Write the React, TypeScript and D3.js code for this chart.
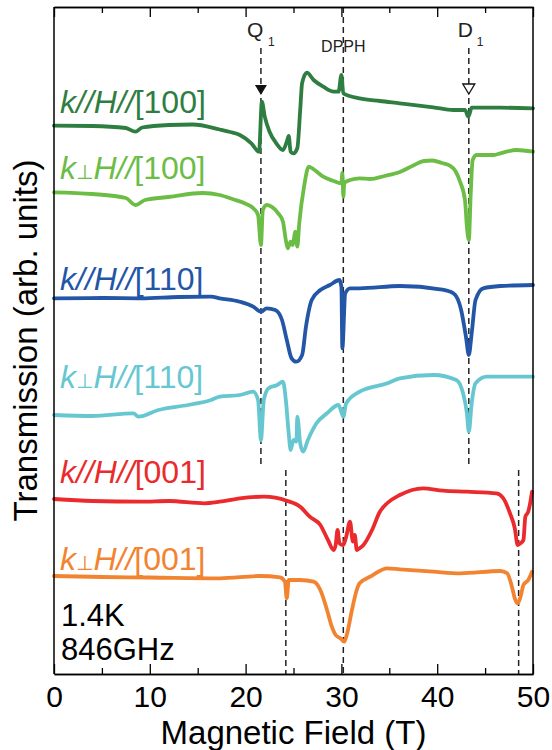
import React, { useEffect, useRef } from "react";
import * as d3 from "d3";

const width = 552;
const height = 750;
const margin = { top: 7, right: 19, bottom: 76, left: 54 };

const FONT = "'Liberation Sans', Arial, sans-serif";

// x axis
const xTicks = [0, 10, 20, 30, 40, 50];
const xMinorTicks = [5, 15, 25, 35, 45];

// traces: [field (T), transmission (arb. units, offset included)]
const kParH100: [number, number][] = [
  [0, 54.83], [4, 54.8], [7.5, 54.6], [8.5, 54.23], [9.2, 54.65], [12, 54.9],
  [14.5, 54.95], [17.3, 54.45], [18.4, 54.2], [19.4, 53.9], [20.6, 53.07],
  [21.4, 52.23], [21.7, 57.23], [22.0, 55.73], [22.5, 54.23], [23.2, 53.07],
  [23.9, 52.4], [24.3, 53.23], [24.5, 53.8], [24.7, 52.23], [25.0, 52.07],
  [25.4, 52.6], [25.7, 56.4], [25.9, 59.1], [26.4, 60.13], [27.1, 59.4],
  [28.1, 58.73], [29.2, 58.23], [29.7, 58.23], [30.0, 59.9], [30.2, 58.07],
  [31.9, 57.57], [34, 57.3], [36.1, 57.07], [39.6, 56.67], [41.7, 56.4],
  [42.9, 56.4], [43.25, 55.73], [43.6, 56.63], [46.6, 56.63], [50, 56.57],
];

const kPerpH100: [number, number][] = [
  [0, 48.17], [4, 48.0], [7.5, 47.6], [8.5, 46.9], [9.5, 47.4], [12, 47.7],
  [15.5, 48.1], [17.3, 47.9], [18.7, 47.47], [19.9, 47.07], [20.8, 46.57],
  [21.3, 45.9], [21.6, 42.9], [21.8, 46.4], [22.2, 46.9], [22.7, 46.73],
  [23.4, 46.07], [23.9, 45.23], [24.2, 43.4], [24.4, 42.57], [24.7, 43.23],
  [24.9, 42.9], [25.2, 44.23], [25.4, 42.73], [25.6, 45.07], [26.1, 48.73],
  [26.6, 50.73], [27.2, 50.4], [28.1, 49.73], [29.1, 49.33], [30.0, 49.07],
  [30.1, 50.1], [30.2, 47.73], [30.3, 49.1], [30.9, 49.4], [31.9, 49.57],
  [33, 49.5], [34.5, 49.8], [36.1, 50.2], [37.5, 50.85], [38.6, 51.3],
  [39.5, 51.35], [40.5, 51.1], [41.3, 50.85], [41.9, 50.3], [42.4, 49.2],
  [42.9, 47.4], [43.1, 44.73], [43.3, 43.4], [43.5, 48.07], [43.7, 51.4],
  [44.1, 51.9], [45.9, 51.9], [46.6, 52.07], [48.3, 52.4], [50, 52.23],
];

const kParH110: [number, number][] = [
  [0, 37.57], [5, 37.6], [9.1, 37.57], [13, 37.7], [16.4, 37.73], [17.3, 37.57],
  [19.4, 37.23], [20.8, 36.73], [21.6, 36.23], [22.2, 36.57], [23.1, 36.4],
  [23.8, 35.4], [24.3, 33.4], [24.8, 31.57], [25.3, 31.23], [25.9, 31.9],
  [26.3, 34.73], [26.9, 37.4], [27.8, 38.4], [28.8, 38.9], [29.8, 39.4],
  [30.0, 38.73], [30.1, 32.57], [30.4, 38.07], [30.9, 38.57], [31.9, 38.57],
  [36.1, 38.8], [40.3, 38.47], [41.7, 38.07], [42.5, 36.4], [43.0, 33.73],
  [43.3, 31.9], [43.6, 34.07], [44.0, 37.4], [44.8, 38.57], [46.6, 38.8],
  [50, 38.9],
];

const kPerpH110: [number, number][] = [
  [0, 25.9], [4, 25.8], [8.3, 26.07], [8.8, 25.73], [10.9, 26.4], [14, 26.9],
  [16.4, 27.4], [17.3, 27.73], [19.4, 27.9], [20.8, 28.23], [21.3, 27.4],
  [21.6, 23.4], [21.9, 27.4], [22.4, 28.57], [23.3, 28.9], [23.9, 29.23],
  [24.2, 27.4], [24.5, 24.07], [24.7, 22.4], [25.0, 23.4], [25.3, 23.23],
  [25.4, 25.73], [25.7, 23.07], [26.0, 22.23], [26.5, 23.4], [27.4, 25.07],
  [28.5, 26.07], [29.7, 26.9], [30.2, 25.73], [30.5, 27.07], [31.9, 28.23],
  [34.8, 29.07], [36.1, 29.57], [39.6, 29.9], [42.0, 29.4], [42.7, 28.07],
  [43.1, 26.07], [43.3, 24.23], [43.6, 27.07], [44.0, 29.07], [45.2, 29.73],
  [50, 29.73],
];

const kParH001: [number, number][] = [
  [0, 17.5], [4, 17.3], [9.1, 17.23], [12, 17.3], [15.7, 17.07], [17.3, 17.23],
  [19.4, 17.57], [21.9, 17.73], [24.3, 17.33], [25.7, 16.73], [26.7, 15.73],
  [27.8, 14.9], [28.6, 13.4], [29.2, 12.4], [29.4, 12.9], [29.6, 14.4],
  [29.8, 13.07], [30.2, 12.9], [30.5, 13.73], [30.9, 15.23], [31.2, 13.23],
  [31.4, 13.9], [31.6, 12.4], [31.9, 12.57], [32.3, 12.9], [33.2, 14.4],
  [34.0, 16.2], [34.8, 17.1], [36.1, 17.9], [38.5, 18.57], [40.6, 18.33],
  [43.1, 18.23], [46.2, 18.07], [46.9, 17.57], [47.6, 16.07], [48.1, 14.57],
  [48.4, 12.9], [48.7, 13.07], [49.0, 13.4], [49.2, 15.73], [49.5, 16.23],
  [49.7, 17.07], [49.9, 18.23],
];

const kPerpH001: [number, number][] = [
  [0, 9.8], [5, 9.7], [10, 9.65], [17.3, 9.57], [21.5, 9.8], [23.6, 9.67],
  [24.1, 9.23], [24.3, 7.57], [24.5, 9.4], [25.7, 9.4], [27.1, 9.23],
  [27.8, 8.4], [28.5, 6.4], [29.0, 4.73], [29.4, 3.9], [29.9, 3.57],
  [30.3, 3.23], [30.6, 4.07], [31.1, 6.4], [31.6, 8.4], [31.9, 9.07],
  [33.0, 9.73], [34.8, 10.57], [36.1, 10.47], [39.6, 10.23], [42.4, 10.07],
  [46.6, 10.3], [47.3, 10.07], [47.8, 8.73], [48.1, 7.57], [48.4, 7.07],
  [48.7, 7.73], [49.0, 8.9], [49.5, 9.4], [49.9, 10.23],
];

const traces = [kParH100, kPerpH100, kParH110, kPerpH110, kParH001, kPerpH001];
const traceColors = ["#2f7e41", "#6cbd45", "#2356a7", "#66c7d1", "#ea2a2c", "#f28431"];
const traceGeometry = ["//", "⊥", "//", "⊥", "//", "⊥"];
const traceDirection = ["[100]", "[100]", "[110]", "[110]", "[001]", "[001]"];
const labelLevels = [56.1, 49.5, 38.4, 28.6, 19.1, 10.4];

// resonance markers (T)
const q1Field = 21.6;
const dpphField = 30.2;
const d1Field = 43.3;
const lowerMarkers = [24.2, 48.5];

function App() {
  const bottomAxisRef = useRef<SVGGElement>(null);
  const bottomMinorRef = useRef<SVGGElement>(null);
  const topAxisRef = useRef<SVGGElement>(null);
  const topMinorRef = useRef<SVGGElement>(null);

  const x = d3
    .scaleLinear()
    .domain([0, 50])
    .range([margin.left, width - margin.right]);
  const y = d3
    .scaleLinear()
    .domain([0, 66.7])
    .range([height - margin.bottom, margin.top]);

  const line = d3
    .line<[number, number]>()
    .x((d) => x(d[0]))
    .y((d) => y(d[1]))
    .curve(d3.curveMonotoneX);

  const plotBottom = height - margin.bottom;

  useEffect(() => {
    const bottom = d3.axisBottom(x).tickValues(xTicks).tickSize(-10).tickSizeOuter(0).tickPadding(12);
    const bottomMinor = d3.axisBottom(x).tickValues(xMinorTicks).tickSize(-6).tickSizeOuter(0).tickFormat(() => "");
    const top = d3.axisTop(x).tickValues(xTicks).tickSize(-10).tickSizeOuter(0).tickFormat(() => "");
    const topMinor = d3.axisTop(x).tickValues(xMinorTicks).tickSize(-6).tickSizeOuter(0).tickFormat(() => "");

    [
      [bottomAxisRef, bottom],
      [bottomMinorRef, bottomMinor],
      [topAxisRef, top],
      [topMinorRef, topMinor],
    ].forEach(([ref, axis]: any) => {
      const g = d3.select(ref.current);
      g.call(axis);
      g.selectAll(".domain").attr("stroke", "#000").attr("stroke-width", 1.5);
      g.selectAll(".tick line").attr("stroke", "#000").attr("stroke-width", 1.3);
      g.selectAll(".tick text")
        .attr("font-size", 30)
        .attr("font-family", FONT)
        .attr("fill", "#000");
    });
  }, []);

  return (
    <div style={{ position: "absolute", left: 0, top: 0 }}>
      <svg width={width} height={height} style={{ display: "block", background: "#fff" }}>
        {/* marker lines */}
        <g stroke="#222" strokeWidth={1.5} strokeDasharray="6,4" fill="none">
          <line x1={x(q1Field)} x2={x(q1Field)} y1={y(62.6)} y2={y(20.9)} />
          <line x1={x(d1Field)} x2={x(d1Field)} y1={y(62.6)} y2={y(20.9)} />
          <line x1={x(dpphField)} x2={x(dpphField)} y1={y(66.7)} y2={y(0)} />
          {lowerMarkers.map((f) => (
            <line key={f} x1={x(f)} x2={x(f)} y1={y(20.4)} y2={y(0)} />
          ))}
        </g>

        {/* traces */}
        {traces.map((t, i) => (
          <path
            key={i}
            d={line(t) || ""}
            fill="none"
            stroke={traceColors[i]}
            strokeWidth={3.8}
            strokeLinejoin="round"
            strokeLinecap="round"
          />
        ))}

        {/* arrows */}
        <path
          d={`M${x(q1Field) - 6},${y(58.9)}L${x(q1Field) + 6},${y(58.9)}L${x(q1Field)},${y(57.9)}Z`}
          fill="#111"
        />
        <path
          d={`M${x(d1Field) - 6},${y(59)}L${x(d1Field) + 6},${y(59)}L${x(d1Field)},${y(58)}Z`}
          fill="#fff"
          stroke="#111"
          strokeWidth={1.3}
        />

        {/* annotation text */}
        <g fontFamily={FONT} fill="#222">
          <text x={x(q1Field) - 14} y={37} fontSize={21}>Q</text>
          <text x={x(q1Field) + 7} y={46} fontSize={12}>1</text>
          <text x={x(dpphField)} y={52} fontSize={16} textAnchor="middle">DPPH</text>
          <text x={x(d1Field) - 11} y={37} fontSize={21}>D</text>
          <text x={x(d1Field) + 8} y={46} fontSize={12}>1</text>
        </g>

        {/* trace labels */}
        {traces.map((_, i) => (
          <text
            key={i}
            x={60}
            y={y(labelLevels[i])}
            fontSize={32}
            fontFamily={FONT}
            fill={traceColors[i]}
          >
            <tspan fontStyle="italic">k</tspan>
            {traceGeometry[i] === "⊥" ? (
              <tspan fontSize={20} fontFamily="'DejaVu Sans', sans-serif">⊥</tspan>
            ) : (
              <tspan fontStyle="italic">//</tspan>
            )}
            <tspan fontStyle="italic">H//</tspan>
            <tspan>{traceDirection[i]}</tspan>
          </text>
        ))}

        <text x={61} y={626} fontSize={31} fontFamily={FONT} fill="#000">1.4K</text>
        <text x={61} y={660} fontSize={31} fontFamily={FONT} fill="#000">846GHz</text>

        {/* frame and axes */}
        <line x1={margin.left} x2={margin.left} y1={margin.top} y2={plotBottom} stroke="#000" strokeWidth={1.5} />
        <line x1={width - margin.right} x2={width - margin.right} y1={margin.top} y2={plotBottom} stroke="#000" strokeWidth={1.5} />
        <g ref={bottomAxisRef} transform={`translate(0,${plotBottom})`} />
        <g ref={bottomMinorRef} transform={`translate(0,${plotBottom})`} />
        <g ref={topAxisRef} transform={`translate(0,${margin.top})`} />
        <g ref={topMinorRef} transform={`translate(0,${margin.top})`} />

        <text
          x={(margin.left + width - margin.right) / 2}
          y={744}
          fontSize={33}
          fontFamily={FONT}
          textAnchor="middle"
          fill="#000"
        >
          Magnetic Field (T)
        </text>
        <text
          transform={`translate(37,${(margin.top + plotBottom) / 2}) rotate(-90)`}
          fontSize={33}
          fontFamily={FONT}
          textAnchor="middle"
          fill="#000"
        >
          Transmission (arb. units)
        </text>
      </svg>
    </div>
  );
}

export default App;
